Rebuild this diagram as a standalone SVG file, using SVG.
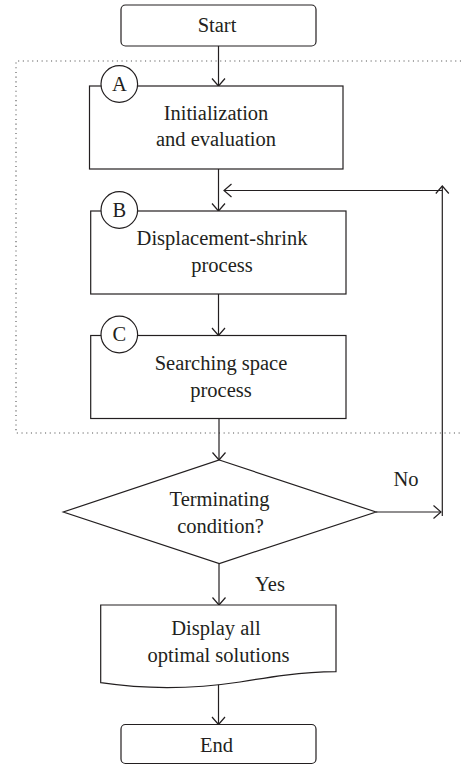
<svg xmlns="http://www.w3.org/2000/svg" width="461" height="765" viewBox="0 0 461 765">
<style>
.box{fill:#fff;stroke:#231f20;stroke-width:1.2}
.ln{fill:none;stroke:#231f20;stroke-width:1.2}
.t{font-family:"Liberation Serif","Times New Roman",serif;font-size:20.5px;fill:#231f20;text-anchor:middle}
.dot{fill:none;stroke:#555;stroke-width:1.1;stroke-dasharray:1.1 3.6}
</style>
<defs>
<marker id="ah" markerUnits="userSpaceOnUse" viewBox="-9 -8 10 16" refX="0" refY="0" markerWidth="10" markerHeight="16" orient="auto" overflow="visible">
<path d="M-7.5,-6.5 L0,0 L-7.5,6.5" fill="none" stroke="#231f20" stroke-width="1.2"/>
</marker>
</defs>
<rect width="461" height="765" fill="#fff"/>
<path class="dot" d="M461,61 H16 V433 H461"/>
<g id="connectors">
<line class="ln" x1="218.5" y1="46" x2="218.5" y2="86" marker-end="url(#ah)"/>
<line class="ln" x1="218.5" y1="169" x2="218.5" y2="211" marker-end="url(#ah)"/>
<line class="ln" x1="442.3" y1="190.5" x2="224" y2="190.5" marker-end="url(#ah)"/>
<line class="ln" x1="442.3" y1="516" x2="442.3" y2="186" marker-end="url(#ah)"/>
<line class="ln" x1="218.5" y1="294" x2="218.5" y2="335.5" marker-end="url(#ah)"/>
<line class="ln" x1="219" y1="418.5" x2="219" y2="460" marker-end="url(#ah)"/>
<line class="ln" x1="376" y1="512" x2="441" y2="512" marker-end="url(#ah)"/>
<text class="t" x="406" y="486">No</text>
<line class="ln" x1="219" y1="563.5" x2="219" y2="605" marker-end="url(#ah)"/>
<text class="t" x="270" y="591">Yes</text>
<line class="ln" x1="218.5" y1="684" x2="218.5" y2="724.5" marker-end="url(#ah)"/>
</g>
<g id="start">
<rect class="box" x="121" y="5" width="195" height="41" rx="4.5"/>
<text class="t" x="217" y="31.5">Start</text>
</g>
<g id="nodeA">
<rect class="box" x="89.5" y="86" width="253.5" height="83"/>
<circle class="box" cx="119.3" cy="84" r="18.3"/>
<text class="t" x="119.3" y="90.5">A</text>
<text class="t" x="216" y="120">Initialization</text>
<text class="t" x="216" y="145.5">and evaluation</text>
</g>
<g id="nodeB">
<rect class="box" x="90.7" y="211" width="255.3" height="83"/>
<circle class="box" cx="119.3" cy="210" r="18.3"/>
<text class="t" x="119.3" y="216.5">B</text>
<text class="t" x="222" y="244.5">Displacement-shrink</text>
<text class="t" x="222" y="272">process</text>
</g>
<g id="nodeC">
<rect class="box" x="90.7" y="335.5" width="255.3" height="83"/>
<circle class="box" cx="119.3" cy="334.5" r="18.3"/>
<text class="t" x="119.3" y="341">C</text>
<text class="t" x="221" y="370">Searching space</text>
<text class="t" x="221" y="396.5">process</text>
</g>
<g id="decision">
<polygon class="box" points="219.3,460 376,512 219.3,563.5 63.3,512"/>
<text class="t" x="219.5" y="505.5">Terminating</text>
<text class="t" x="220.5" y="533">condition?</text>
</g>
<g id="display">
<path class="box" d="M100.7,605 H336 V671.7 C300,672 270,677 240,682 C200,688 150,690 100.7,682.7 Z"/>
<text class="t" x="216" y="635">Display all</text>
<text class="t" x="218.5" y="661.5">optimal solutions</text>
</g>
<g id="end">
<rect class="box" x="121" y="724.5" width="195" height="39" rx="4.5"/>
<text class="t" x="216.5" y="751.5">End</text>
</g>
</svg>
